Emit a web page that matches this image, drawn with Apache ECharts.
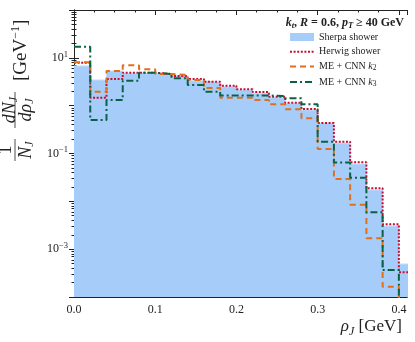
<!DOCTYPE html>
<html>
<head>
<meta charset="utf-8">
<script src="https://cdn.jsdelivr.net/npm/echarts@6/dist/echarts.min.js"></script>
<style>
    html, body { margin: 0; padding: 0; background: #fff; }
    #chart { width: 415px; height: 342px; }
</style>
</head>
<body>
<div id="chart"></div>
<script>
    // histogram bins (left edges), last bin ends at 0.42
    var binEdges = [0.00, 0.02, 0.04, 0.06, 0.08, 0.10, 0.12, 0.14, 0.16, 0.18, 0.20,
                    0.22, 0.24, 0.26, 0.28, 0.30, 0.32, 0.34, 0.36, 0.38, 0.40];
    var binEnd = 0.42;
    var sherpa = [6.75, 3.44, 5.31, 4.75, 4.75, 4.38, 4.17, 3.32, 3.02, 2.49, 2.12,
                  1.81, 1.47, 1.12, 0.81, 0.43, 0.165, 0.060, 0.0173, 0.00305, 0.00049];
    var herwig = [7.9, 1.47, 3.61, 4.89, 4.89, 4.6, 4.17, 3.61, 3.17, 2.61, 2.20,
                  1.93, 1.54, 1.15, 0.85, 0.434, 0.177, 0.0655, 0.0187, 0.0033, 0.00033];
    var cnnK2 = [8.05, 1.96, 5.31, 6.98, 5.75, 4.59, 4.38, 3.44, 2.34, 1.47, 1.47,
                 1.31, 1.07, 0.84, 0.544, 0.124, 0.0293, 0.0085, 0.00169, 0.000164, 0];
    var cnnK3 = [17.1, 0.50, 1.31, 3.32, 4.89, 4.59, 3.73, 2.70, 1.96, 1.63, 1.63,
                 1.63, 1.59, 1.43, 1.07, 0.177, 0.0646, 0.0312, 0.0059, 0.000366, 0];
    var xTickLabels = ['0.0', '0.1', '0.2', '0.3', '0.4'];
    var yLabelExp = [-3, -1, 1];

    var serif = 'Liberation Serif';
    var ink = '#222';

    // step points: one per bin edge, empty bins drop below the axis
    function steps(vals) {
        var pts = binEdges.map(function (e, i) {
            return [e, vals[i] > 0 ? vals[i] : 1e-8];
        });
        pts.push([binEnd, pts[pts.length - 1][1]]);
        return pts;
    }

    function xAxisOf(pos, interval, len, labels) {
        return {
            type: 'value', position: pos, min: 0, max: 0.41, interval: interval,
            axisLine: { show: true, lineStyle: { color: ink, width: 1 } },
            axisTick: { show: true, inside: true, length: len, lineStyle: { color: ink } },
            axisLabel: {
                show: labels, showMaxLabel: false, margin: 7,
                fontFamily: serif, fontSize: 12, color: ink,
                formatter: function (v) {
                    var i = Math.round(v * 10);
                    return Math.abs(v - i / 10) < 1e-9 ? xTickLabels[i] : '';
                }
            },
            splitLine: { show: false }
        };
    }

    function yAxisOf(pos, labels) {
        return {
            type: 'log', logBase: 10, position: pos, min: 1e-4, max: 100, splitNumber: 6,
            axisLine: { show: true, lineStyle: { color: ink, width: 1 } },
            axisTick: { show: true, inside: true, length: 5, lineStyle: { color: ink } },
            minorTick: { show: true, splitNumber: 9, length: 2.5, lineStyle: { color: ink } },
            axisLabel: {
                show: labels, margin: 6, color: ink,
                formatter: function (v) {
                    var e = Math.round(Math.log10(v));
                    if (yLabelExp.indexOf(e) < 0) return '';
                    return '{b|10}{s|' + (e < 0 ? '\u2212' + (-e) : e) + '}';
                },
                rich: {
                    b: { fontFamily: serif, fontSize: 12, color: ink },
                    s: { fontFamily: serif, fontSize: 8.5, color: ink, verticalAlign: 'bottom', padding: [0, 0, 7, 0] }
                }
            },
            splitLine: { show: false }
        };
    }

    // rich styles for math-like labels
    function mathRich(size, sub, drop, bold) {
        var w = bold ? 'bold' : 'normal';
        return {
            n: { fontFamily: serif, fontSize: size, fontWeight: w, color: ink, fill: ink },
            i: { fontFamily: serif, fontSize: size, fontWeight: w, fontStyle: 'italic', color: ink, fill: ink },
            s: { fontFamily: serif, fontSize: sub, fontWeight: w, fontStyle: 'italic', color: ink, fill: ink, verticalAlign: 'top', padding: [drop, 0, 0, 0] },
            u: { fontFamily: serif, fontSize: sub, fontWeight: w, color: ink, fill: ink, verticalAlign: 'top', padding: [drop, 0, 0, 0] },
            p: { fontFamily: serif, fontSize: sub, fontWeight: w, color: ink, fill: ink, verticalAlign: 'bottom', padding: [0, 0, drop + 2, 0] }
        };
    }

    var chart = echarts.init(document.getElementById('chart'), null, { renderer: 'canvas' });

    var legendRich = mathRich(10, 7.5, 3, false);
    Object.keys(legendRich).forEach(function (k) { legendRich[k].lineHeight = 10; });
    var yTitleRich = mathRich(18, 12, 8, false);

    chart.setOption({
        animation: false,
        grid: { left: 74, right: 8, top: 10, bottom: 45 },
        xAxis: [
            xAxisOf('bottom', 0.1, 5, true),
            xAxisOf('bottom', 0.025, 2.5, false),
            xAxisOf('top', 0.1, 5, false),
            xAxisOf('top', 0.025, 2.5, false)
        ],
        yAxis: [yAxisOf('left', true), yAxisOf('right', false)],
        legend: {
            orient: 'vertical', left: 284, top: 27,
            itemWidth: 24, itemHeight: 8, itemGap: 4.7,
            itemStyle: { opacity: 0 },
            textStyle: { fontFamily: serif, fontSize: 10, color: ink, lineHeight: 10, rich: legendRich },
            formatter: function (name) {
                var m = name.match(/^(.*) k(\d)$/);
                return m ? '{n|' + m[1] + ' }{i|k}{u|' + m[2] + '}' : '{n|' + name + '}';
            },
            data: [
                { name: 'Sherpa shower', icon: 'rect', itemStyle: { opacity: 1 } },
                'Herwig shower', 'ME + CNN k2', 'ME + CNN k3'
            ]
        },
        graphic: [
            {
                type: 'text', x: 404, y: 23,
                style: {
                    text: '{i|k}{s|t}{n|, }{i|R}{n| = 0.6, }{i|p}{s|T}{n| \u2265 40 GeV}',
                    align: 'right', verticalAlign: 'middle',
                    rich: mathRich(12, 8.5, 5, true)
                }
            },
            {
                type: 'text', x: 402, y: 327,
                style: {
                    text: '{i|\u03c1}{s|J}{n| [GeV]}',
                    align: 'right', verticalAlign: 'middle',
                    rich: mathRich(17, 12, 9, false)
                }
            },
            {
                // y axis title, rotated: 1/N_J dN_J/drho_J [GeV^-1]
                type: 'group', x: 15, y: 165, rotation: Math.PI / 2,
                children: [
                    { type: 'text', x: 15, y: 0, style: { text: '{n|1}', align: 'center', verticalAlign: 'bottom', rich: yTitleRich } },
                    { type: 'line', shape: { x1: 4, y1: 0, x2: 26, y2: 0 }, style: { stroke: ink, lineWidth: 0.8 } },
                    { type: 'text', x: 15, y: 1, style: { text: '{i|N}{s|J}', align: 'center', verticalAlign: 'top', rich: yTitleRich } },
                    { type: 'text', x: 55, y: 5, style: { text: '{i|dN}{s|J}', align: 'center', verticalAlign: 'bottom', rich: yTitleRich } },
                    { type: 'line', shape: { x1: 37, y1: 0, x2: 73, y2: 0 }, style: { stroke: ink, lineWidth: 0.8 } },
                    { type: 'text', x: 55, y: 1, style: { text: '{i|d\u03c1}{s|J}', align: 'center', verticalAlign: 'top', rich: yTitleRich } },
                    { type: 'text', x: 84, y: 6, style: { text: '{n|[GeV}{p|\u22121}{n|]}', align: 'left', verticalAlign: 'middle', rich: mathRich(19, 12, 8, false) } }
                ]
            }
        ],
        series: [
            {
                name: 'Sherpa shower', type: 'line', step: 'end', data: steps(sherpa),
                symbol: 'none', z: 1,
                itemStyle: { color: '#a6ccfa' },
                lineStyle: { color: '#c2ddfc', width: 1 },
                areaStyle: { color: '#a6ccfa', opacity: 1, origin: 'start' }
            },
            {
                name: 'Herwig shower', type: 'line', step: 'end', data: steps(herwig),
                symbol: 'none', z: 2,
                itemStyle: { color: '#c8102e' },
                lineStyle: { color: '#c8102e', width: 2, type: [2, 1.6] }
            },
            {
                name: 'ME + CNN k2', type: 'line', step: 'end', data: steps(cnnK2),
                symbol: 'none', z: 3,
                itemStyle: { color: '#e0701c' },
                lineStyle: { color: '#e0701c', width: 2, type: [6, 4] }
            },
            {
                name: 'ME + CNN k3', type: 'line', step: 'end', data: steps(cnnK3),
                symbol: 'none', z: 4,
                itemStyle: { color: '#0b6146' },
                lineStyle: { color: '#0b6146', width: 2, type: [7, 3, 2, 3] }
            }
        ]
    });
</script>
</body>
</html>
